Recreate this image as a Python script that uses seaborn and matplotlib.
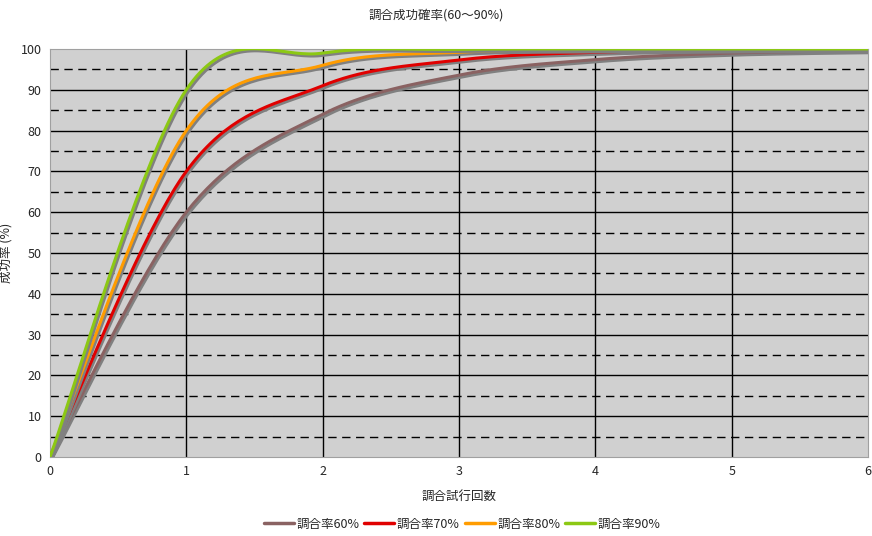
import numpy as np
import matplotlib
matplotlib.use("Agg")
import matplotlib.pyplot as plt
import matplotlib.patheffects as pe
from matplotlib.lines import Line2D
import seaborn as sns

# 試行回数ごとの累積成功率 (%)
trials = [0, 1, 2, 3, 4, 5, 6]
rate60 = [0, 60, 84, 93.6, 97.4, 99.0, 99.6]
rate70 = [0, 70, 91, 97.3, 99.2, 99.8, 99.9]
rate80 = [0, 80, 96, 99.2, 99.8, 99.9, 100]
rate90 = [0, 90, 99, 99.9, 100, 100, 100]
labels = ["調合率60%", "調合率70%", "調合率80%", "調合率90%"]
colors = ["#8a6262", "#e00000", "#ff9c00", "#8cc814"]


def smooth(xs, ys, n=40):
    # Excel風の平滑線 (ベジェ曲線)
    p = np.column_stack([xs, ys]).astype(float)
    out = []
    for i in range(len(p) - 1):
        p0 = p[i - 1] if i > 0 else p[i]
        p3 = p[i + 2] if i + 2 < len(p) else p[i + 1]
        c1 = p[i] + (p[i + 1] - p0) / 6
        c2 = p[i + 1] - (p3 - p[i]) / 6
        t = np.linspace(0, 1, n)[:, None]
        seg = ((1 - t) ** 3 * p[i] + 3 * (1 - t) ** 2 * t * c1
               + 3 * (1 - t) * t ** 2 * c2 + t ** 3 * p[i + 1])
        out.append(seg if i == 0 else seg[1:])
    out = np.vstack(out)
    return out[:, 0], out[:, 1]


sns.set_style("white")
plt.rcParams["font.family"] = ["Noto Sans CJK JP", "DejaVu Sans"]

fig = plt.figure(figsize=(8.72, 5.36), dpi=100)
ax = fig.add_axes([0.0573, 0.1474, 0.9381, 0.7612])
ax.set_facecolor("#d0d0d0")

for yv in range(5, 100, 10):
    ax.axhline(yv, color="black", lw=1, ls=(0, (6, 4)), zorder=1)
for yv in range(10, 100, 10):
    ax.axhline(yv, color="black", lw=1, zorder=1)
for xv in range(1, 6):
    ax.axvline(xv, color="black", lw=1, zorder=1)

for ys, lab, col in zip([rate60, rate70, rate80, rate90], labels, colors):
    sx, sy = smooth(trials, ys)
    sns.lineplot(x=sx, y=sy, ax=ax, color=col, lw=2.2, sort=False, zorder=3,
                 path_effects=[pe.SimpleLineShadow(offset=(1.2, -1.5), shadow_color="#808080", alpha=1),
                               pe.Normal()])

ax.set_xlim(0, 6)
ax.set_ylim(0, 100)
ax.set_xticks(range(0, 7))
ax.set_yticks(range(0, 101, 10))
ax.tick_params(labelsize=9, length=0, pad=6)
for s in ax.spines.values():
    s.set_color("#a0a0a0")

fig.text(0.5, 0.985, "調合成功確率(60〜90%)", ha="center", va="top", fontsize=9)
ax.set_xlabel("調合試行回数", fontsize=9, labelpad=8)
ax.set_ylabel("成功率 (%)", fontsize=9, labelpad=6)

handles = [Line2D([], [], color=c, lw=2.5) for c in colors]
fig.legend(handles, labels, loc="center", bbox_to_anchor=(0.53, 0.022), ncol=4,
           frameon=False, fontsize=9, handlelength=2.4, handletextpad=0.2,
           columnspacing=0.4, borderaxespad=0)

fig.savefig("out.png", dpi=100)
